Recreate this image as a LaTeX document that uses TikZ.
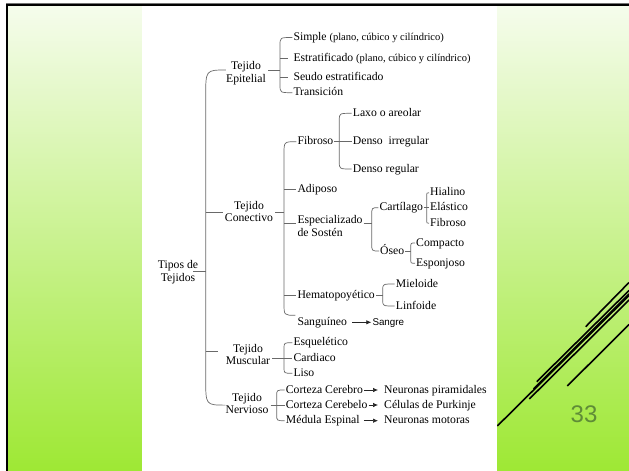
\documentclass[tikz,border=0pt]{standalone}
\usepackage{fontspec}
\setmainfont{Liberation Serif}
\newfontfamily\sansf{Liberation Sans}
\usetikzlibrary{arrows.meta,calc}
\definecolor{gtop}{RGB}{245,252,236}
\definecolor{gbot}{RGB}{158,232,52}
\definecolor{lncol}{RGB}{105,105,105}
\definecolor{numgreen}{RGB}{95,140,55}
\newcommand\mybrace[4]{%
  \draw[ln] (#1) .. controls (#3 |- #1) .. ($(#3 |- #1)+(0,#4)$) -- ($(#3 |- #2)+(0,-#4)$) .. controls (#3 |- #2) .. (#2);}
\begin{document}
\begin{tikzpicture}[x=1pt,y=-1pt,
  ln/.style={draw=lncol,line width=0.7pt},
  arr/.style={draw=black!85,line width=0.7pt,-{Latex[length=5pt,width=4.5pt]}},
  leaf/.style={anchor=west,inner xsep=1pt,inner ysep=0pt,text height=8.5pt,text depth=2.5pt,font=\fontsize{11.7}{12.7}\selectfont},
  grp/.style={align=center,inner xsep=2pt,inner ysep=0pt,font=\fontsize{11.7}{12.7}\selectfont},
  grpl/.style={align=left,anchor=west,inner xsep=1pt,inner ysep=0pt,font=\fontsize{11.7}{12.7}\selectfont},
  diag/.style={line width=1.6pt,black}
]
\useasboundingbox (0,0) rectangle (629,471);
% background
\fill[white] (0,0) rectangle (629,471);
\shade[top color=gtop,bottom color=gbot] (8,6) rectangle (629,471);
\fill[white] (142,6) rectangle (497,471);
\fill[black!55] (5.5,3) rectangle (629,4.4);
\fill[black] (6,4.3) rectangle (629,6.4);
\fill[black] (6,4.3) rectangle (8.2,471);
% decorative diagonals
\begin{scope}
\clip (497,0) rectangle (629,471);
\draw[diag] (585.7,326.7) -- (629,282.5);
\draw[diag] (536.7,381.7) -- (629,290.5);
\draw[diag] (533.5,389) -- (629,294);
\draw[diag] (529.3,399) -- (629,300);
\draw[diag] (497.3,426) -- (629,295.5);
\draw[diag] (567.3,386) -- (629,324.5);
\end{scope}
\node[font=\sansf\fontsize{24}{24}\selectfont,text=numgreen] (num) at (584,414) {33};

% brace x-positions
\coordinate (bx) at (205.7,0);
\coordinate (ex) at (280,0);
\coordinate (cx) at (284,0);
\coordinate (fx) at (339.3,0);
\coordinate (sx) at (371.7,0);
\coordinate (kx) at (426.7,0);
\coordinate (ox) at (410.7,0);
\coordinate (hx) at (382.7,0);
\coordinate (mx) at (284,0);
\coordinate (nx) at (276.7,0);

% group nodes
\node[grp] (tipos) at (178,272.8) {\strut Tipos de\\\strut Tejidos};
\node[grp] (ep) at (246,73.8) {\strut Tejido\\\strut Epitelial};
\node[grp] (cn) at (249,213.1) {\strut Tejido\\\strut Conectivo};
\node[grp] (mu) at (248,356.1) {\strut Tejido\\\strut Muscular};
\node[grp] (nv) at (247,405.1) {\strut Tejido\\\strut Nervioso};

% epitelial leaves
\node[leaf] (s1) at (292.3,37.5) {Simple {\fontsize{10.5}{12}\selectfont(plano, cúbico y cilíndrico)}};
\node[leaf] (s2) at (292.3,58.3) {Estratificado {\fontsize{10.5}{12}\selectfont(plano, cúbico y cilíndrico)}};
\node[leaf] (s3) at (292.3,77.5) {Seudo estratificado};
\node[leaf] (s4) at (292.3,92.7) {Transición};

% conectivo
\node[leaf] (fib) at (296.3,141.7) {Fibroso};
\node[leaf] (lx) at (351.7,113.3) {Laxo o areolar};
\node[leaf] (di) at (351.7,141.7) {Denso~ irregular};
\node[leaf] (dr) at (351.7,169) {Denso regular};
\node[leaf] (ad) at (296.3,189) {Adiposo};
\node[grpl] (esp) at (296.3,227.8) {\strut Especializado\\\strut de Sostén};
\node[leaf] (cart) at (378.3,207.7) {Cartílago};
\node[leaf] (os) at (379,251) {Óseo};
\node[leaf] (hi) at (429,192.7) {Hialino};
\node[leaf] (el) at (429,207.7) {Elástico};
\node[leaf] (fb2) at (429,223.3) {Fibroso};
\node[leaf] (cp) at (415,243) {Compacto};
\node[leaf] (es) at (415,263.3) {Esponjoso};
\node[leaf] (hm) at (296.3,295) {Hematopoyético};
\node[leaf] (mi) at (394.7,284) {Mieloide};
\node[leaf] (li) at (394.7,306) {Linfoide};
\node[leaf] (sang) at (296.3,322.3) {Sanguíneo};
\node[leaf,font=\sansf\fontsize{9.8}{11}\selectfont] (sg) at (371.3,322.3) {Sangre};

% muscular
\node[leaf] (eq) at (292.3,342.7) {Esquelético};
\node[leaf] (ca) at (292.3,358.3) {Cardiaco};
\node[leaf] (ls) at (292.3,373.3) {Liso};

% nervioso
\node[leaf] (cc) at (284.7,390) {Corteza Cerebro};
\node[leaf] (cb) at (284.7,405) {Corteza Cerebelo};
\node[leaf] (me) at (284.7,420.7) {Médula Espinal};
\node[leaf] (n1) at (383,390) {Neuronas piramidales};
\node[leaf] (n2) at (383,405) {Células de Purkinje};
\node[leaf] (n3) at (383,420.7) {Neuronas motoras};

% helper coordinates
\coordinate (tp) at ([xshift=-7pt,yshift=1.8pt]tipos.east);
\coordinate (bt) at ([xshift=2pt,yshift=3.8pt]ep.west);
\coordinate (bb) at ([xshift=2pt]nv.west);
\coordinate (epr) at ([yshift=3.8pt]ep.east);
\coordinate (cnl) at ([yshift=1.1pt]cn.west);
\coordinate (cnr) at ([yshift=0.8pt]cn.east);
\coordinate (mul) at ([xshift=-6pt,yshift=5.1pt]mu.west);
\coordinate (espl) at ([yshift=4.5pt]esp.west);
\coordinate (espr) at ([yshift=4.5pt]esp.east);
\coordinate (sgt) at ([xshift=-1pt,yshift=7pt]sang.west);

% main brace
\draw[ln] (tp) -- (tp -| bx);
\mybrace{bt}{bb}{bx}{26}
\draw[ln] (bx |- cnl) -- (cnl);
\draw[ln] (bx |- mul) -- (mul);

% epitelial
\draw[ln] (epr) -- (epr -| ex);
\mybrace{s1.west}{s4.west}{ex}{8}
\draw[ln] (ex |- s2.west) -- ([xshift=-4pt]s2.west);
\draw[ln] (ex |- s3.west) -- ([xshift=-4pt]s3.west);

% conectivo
\draw[ln] (cnr) -- (cnr -| cx);
\mybrace{fib.west}{sgt}{cx}{12}
\draw[ln] (cx |- ad.west) -- (ad.west);
\draw[ln] (cx |- espl) -- (espl);
\draw[ln] (cx |- hm.west) -- (hm.west);
\mybrace{lx.west}{dr.west}{fx}{7}
\draw[ln] (fib.east) -- (di.west);
\draw[ln] (espr) -- (espr -| sx);
\mybrace{cart.west}{os.west}{sx}{8}
\mybrace{hi.west}{fb2.west}{kx}{4}
\draw[ln] (cart.east) -- (el.west);
\mybrace{cp.west}{es.west}{ox}{5}
\draw[ln] (os.east) -- (os.east -| ox);
\draw[ln] (hm.east) -- (hm.east -| hx);
\mybrace{mi.west}{li.west}{hx}{6}
\draw[arr] ([xshift=4pt]sang.east) -- (sg.west);

% muscular
\mybrace{eq.west}{ls.west}{mx}{6}
\draw[ln] (mu.east |- ca.west) -- (ca.west);

% nervioso
\mybrace{cc.west}{me.west}{nx}{6}
\draw[ln] (nv.east |- cb.west) -- (cb.west);
\draw[arr] (cc.east) -- ([xshift=-5pt]n1.west);
\draw[arr] (cb.east) -- ([xshift=-5pt]n2.west);
\draw[arr] ([xshift=3pt]me.east) -- ([xshift=-5pt]n3.west);
\end{tikzpicture}
\end{document}
